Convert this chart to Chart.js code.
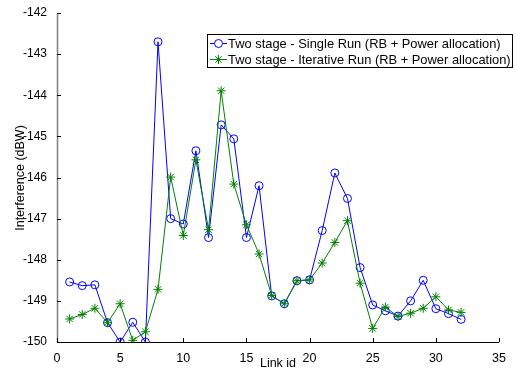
<!DOCTYPE html>
<html>
<head>
<meta charset="utf-8">
<script src="https://cdn.jsdelivr.net/npm/chart.js@4/dist/chart.umd.min.js"></script>
<style>
  html, body { margin: 0; padding: 0; background: #fff; }
  #wrap { width: 515px; height: 374px; position: relative; }
</style>
</head>
<body>
<div id="wrap"><canvas id="c" width="515" height="374"></canvas></div>
<script>
// link ids 1..32
const linkIds = [1,2,3,4,5,6,7,8,9,10,11,12,13,14,15,16,17,18,19,20,21,22,23,24,25,26,27,28,29,30,31,32];

const singleRun = [
  -148.54, -148.63, -148.61, -149.53, -150.00, -149.52, -150.00, -142.70,
  -147.00, -147.13, -145.35, -147.46, -144.72, -145.06, -147.46, -146.20,
  -148.88, -149.07, -148.51, -148.49, -147.29, -145.89, -146.51, -148.19,
  -149.10, -149.24, -149.37, -149.00, -148.50, -149.19, -149.31, -149.45
];

const iterativeRun = [
  -149.44, -149.33, -149.18, -149.53, -149.07, -149.96, -149.75, -148.72,
  -145.99, -147.41, -145.57, -147.27, -143.89, -146.16, -147.15, -147.86,
  -148.87, -149.07, -148.51, -148.49, -148.08, -147.58, -147.05, -148.57,
  -149.67, -149.15, -149.38, -149.30, -149.18, -148.90, -149.22, -149.28
];

const seriesLabels = [
  'Two stage - Single Run (RB + Power allocation)',
  'Two stage - Iterative Run (RB + Power allocation)'
];
const seriesColors = ['#0000ff', '#008000'];
const seriesMarkers = ['circle', 'star'];

const FONT = 'Liberation Sans, Arial, sans-serif';

const toPoints = vals => vals.map((v, i) => ({ x: linkIds[i], y: v }));

// axis lines with inward ticks, matlab style (box off)
const axesPlugin = {
  id: 'matlabAxes',
  afterDraw(chart) {
    const { ctx, chartArea: a, scales: { x, y } } = chart;
    ctx.save();
    ctx.lineWidth = 1;

    // left axis is a softer grey
    ctx.strokeStyle = '#808080';
    ctx.lineWidth = 1.5;
    ctx.beginPath();
    ctx.moveTo(a.left + 0.5, a.top);
    ctx.lineTo(a.left + 0.5, a.bottom + 0.5);
    ctx.stroke();

    ctx.strokeStyle = '#000';
    ctx.lineWidth = 1;
    ctx.beginPath();
    ctx.moveTo(a.left, a.bottom + 0.5);
    ctx.lineTo(a.right, a.bottom + 0.5);
    x.ticks.forEach(t => {
      const px = Math.round(x.getPixelForValue(t.value)) + 0.5;
      ctx.moveTo(px, a.bottom);
      ctx.lineTo(px, a.bottom - 4);
    });
    y.ticks.forEach(t => {
      const py = Math.round(y.getPixelForValue(t.value)) + 0.5;
      ctx.moveTo(a.left, py);
      ctx.lineTo(a.left + 4, py);
    });
    ctx.stroke();

    // axis titles
    ctx.fillStyle = '#000';
    ctx.font = '12.5px ' + FONT;
    ctx.textAlign = 'center';
    ctx.textBaseline = 'middle';
    ctx.fillText('Link id', (a.left + a.right) / 2, 364);
    ctx.translate(21, 178);
    ctx.rotate(-Math.PI / 2);
    ctx.fillText('Interference (dBW)', 0, 0);
    ctx.restore();
  }
};

// boxed legend in the upper right, allowed to run past the plot area
const legendPlugin = {
  id: 'boxLegend',
  afterDraw(chart) {
    const { ctx } = chart;
    const bx = 207, by = 34, bw = 306, bh = 34;
    ctx.save();
    ctx.fillStyle = '#fff';
    ctx.fillRect(bx, by, bw, bh);
    ctx.strokeStyle = '#000';
    ctx.lineWidth = 1;
    ctx.strokeRect(bx + 0.5, by + 0.5, bw - 1, bh - 1);
    ctx.font = '12.9px ' + FONT;
    ctx.textBaseline = 'middle';
    ctx.textAlign = 'left';
    seriesLabels.forEach((label, i) => {
      const cy = by + 9.5 + i * 16;
      ctx.strokeStyle = seriesColors[i];
      ctx.beginPath();
      ctx.moveTo(bx + 3, cy);
      ctx.lineTo(bx + 20, cy);
      ctx.stroke();
      Chart.helpers.drawPoint(ctx, {
        pointStyle: seriesMarkers[i], radius: seriesMarkers[i] === 'circle' ? 4 : 4.5,
        borderWidth: 1, rotation: 0
      }, bx + 11.5, cy);
      ctx.fillStyle = '#000';
      ctx.fillText(label, bx + 21, cy + 0.5);
    });
    ctx.restore();
  }
};

new Chart(document.getElementById('c'), {
  type: 'line',
  data: {
    datasets: [0, 1].map(i => ({
      label: seriesLabels[i],
      data: toPoints(i === 0 ? singleRun : iterativeRun),
      borderColor: seriesColors[i],
      backgroundColor: 'transparent',
      borderWidth: 1,
      pointStyle: seriesMarkers[i],
      pointRadius: i === 0 ? 4 : 4.5,
      pointBorderWidth: 1,
      pointBorderColor: seriesColors[i],
      pointBackgroundColor: 'transparent',
      tension: 0,
      fill: false
    })).reverse()
  },
  options: {
    responsive: false,
    animation: false,
    events: [],
    layout: { padding: { top: 13, right: 16, left: 0, bottom: 0 } },
    plugins: { legend: { display: false }, tooltip: { enabled: false } },
    scales: {
      x: {
        type: 'linear',
        min: 0, max: 35,
        border: { display: false },
        grid: { display: false },
        ticks: { stepSize: 5, color: '#000', font: { family: FONT, size: 12.5 }, padding: 1, maxRotation: 0 },
        afterFit(scale) { scale.height = 32; }
      },
      y: {
        min: -150, max: -142,
        border: { display: false },
        grid: { display: false },
        ticks: { stepSize: 1, color: '#000', font: { family: FONT, size: 12 }, padding: 2 },
        afterFit(scale) { scale.width = 57; }
      }
    }
  },
  plugins: [axesPlugin, legendPlugin]
});
</script>
</body>
</html>
